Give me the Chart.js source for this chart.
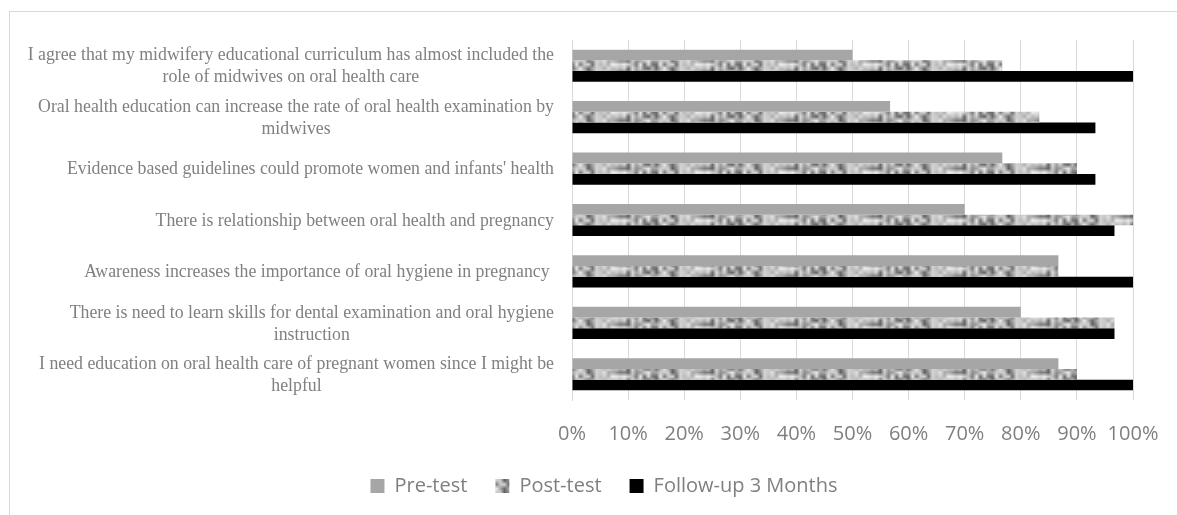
<!DOCTYPE html>
<html>
<head>
<meta charset="utf-8">
<script src="https://cdn.jsdelivr.net/npm/chart.js@4.4.1/dist/chart.umd.min.js"></script>
<style>
  body { margin: 0; background: #fff; overflow: hidden; }
  #frame { position: absolute; left: 9px; top: 11px; width: 1200px; height: 540px; border: 1px solid #d9d9d9; }
  #myChart { position: absolute; left: 0; top: 0; }
</style>
</head>
<body>
<div id="frame"></div>
<canvas id="myChart" width="1177" height="515"></canvas>
<script>
const categories = [
    ['I agree that my midwifery educational curriculum has almost included the', 'role of midwives on oral health care'],
    ['Oral health education can increase the rate of oral health examination by', 'midwives'],
    ["Evidence based guidelines could promote women and infants' health"],
    ['There is relationship between oral health and pregnancy'],
    ['Awareness increases the importance of oral hygiene in pregnancy '],
    ['There is need to learn skills for dental examination and oral hygiene', 'instruction'],
    ['I need education on oral health care of pregnant women since I might be', 'helpful']
];
const preTest = [50, 56.7, 76.7, 70, 86.7, 80, 86.7];
const postTest = [76.7, 83.3, 90, 100, 86.7, 96.7, 90];
const followUp = [100, 93.3, 93.3, 96.7, 100, 96.7, 100];
const xTicks = [0, 10, 20, 30, 40, 50, 60, 70, 80, 90, 100];

// mottled grey texture for the post-test series (smoothed hash noise)
function makeTexture() {
    const W = 84, H = 12, cell = 4;
    const hash = (i, j) => {
        const s = Math.sin(i * 127.1 + j * 311.7) * 43758.5453;
        return s - Math.floor(s);
    };
    const c = document.createElement('canvas');
    c.width = W; c.height = H;
    const g = c.getContext('2d');
    const nx = W / cell, ny = H / cell;
    for (let y = 0; y < H; y++) {
        for (let x = 0; x < W; x++) {
            const fx = x / cell, fy = y / cell;
            const i0 = Math.floor(fx), j0 = Math.floor(fy);
            const tx = fx - i0, ty = fy - j0;
            const a = hash(i0 % nx, j0 % ny), b = hash((i0 + 1) % nx, j0 % ny);
            const d = hash(i0 % nx, (j0 + 1) % ny), e = hash((i0 + 1) % nx, (j0 + 1) % ny);
            const v = (a * (1 - tx) + b * tx) * (1 - ty) + (d * (1 - tx) + e * tx) * ty;
            const s = Math.round(95 + v * 145);
            g.fillStyle = 'rgb(' + s + ',' + s + ',' + s + ')';
            g.fillRect(x, y, 1, 1);
        }
    }
    return g.createPattern(c, 'repeat');
}

const ctx = document.getElementById('myChart').getContext('2d');
const texture = makeTexture();

// category labels: first line right-aligned, wrapped line centred under it
const yLabels = {
    id: 'yLabels',
    afterDraw(chart) {
        const y = chart.scales.y;
        const c = chart.ctx;
        c.save();
        c.font = '17.8px "Liberation Serif", serif';
        c.fillStyle = '#808080';
        c.textBaseline = 'middle';
        const right = 554;
        const lineH = 22;
        categories.forEach((lines, i) => {
            const cy = y.getPixelForValue(i) + 1;
            const w0 = c.measureText(lines[0]).width;
            const mid = right - w0 / 2;
            lines.forEach((t, j) => {
                const ly = cy + (j - (lines.length - 1) / 2) * lineH;
                if (j === 0) {
                    c.textAlign = 'right';
                    c.fillText(t, right, ly);
                } else {
                    c.textAlign = 'center';
                    c.fillText(t, mid, ly);
                }
            });
        });
        c.restore();
    }
};

const padLeft = 75;

new Chart(ctx, {
    type: 'bar',
    data: {
        labels: categories.map(l => l.join(' ')),
        datasets: [{
            label: 'Pre-test',
            data: preTest,
            backgroundColor: '#a6a6a6'
        }, {
            label: 'Post-test',
            data: postTest,
            backgroundColor: texture
        }, {
            label: 'Follow-up 3 Months',
            data: followUp,
            backgroundColor: '#000000'
        }]
    },
    options: {
        indexAxis: 'y',
        responsive: false,
        animation: false,
        categoryPercentage: 0.625,
        barPercentage: 1.0,
        layout: {
            padding: { left: padLeft, right: 44, top: 40, bottom: 9 }
        },
        scales: {
            x: {
                min: 0,
                max: 100,
                afterBuildTicks: axis => { axis.ticks = xTicks.map(v => ({ value: v })); },
                grid: { color: '#d9d9d9', drawTicks: false },
                border: { display: false },
                ticks: {
                    padding: 22,
                    maxRotation: 0,
                    minRotation: 0,
                    autoSkip: false,
                    color: '#7f7f7f',
                    font: { family: '"Open Sans", sans-serif', size: 20 },
                    callback: v => v + '%'
                },
                afterFit: axis => {
                    axis.height = 48;
                    axis.paddingRight = 30;
                }
            },
            y: {
                grid: { display: false },
                border: { display: true, color: '#d9d9d9' },
                ticks: { display: false },
                afterFit: axis => { axis.width = 572 - padLeft; }
            }
        },
        plugins: {
            legend: {
                position: 'bottom',
                labels: {
                    color: '#7f7f7f',
                    font: { family: '"Open Sans", sans-serif', size: 20 },
                    boxWidth: 14,
                    boxHeight: 14,
                    padding: 28
                }
            },
            tooltip: { enabled: false }
        }
    },
    plugins: [yLabels]
});
</script>
</body>
</html>
